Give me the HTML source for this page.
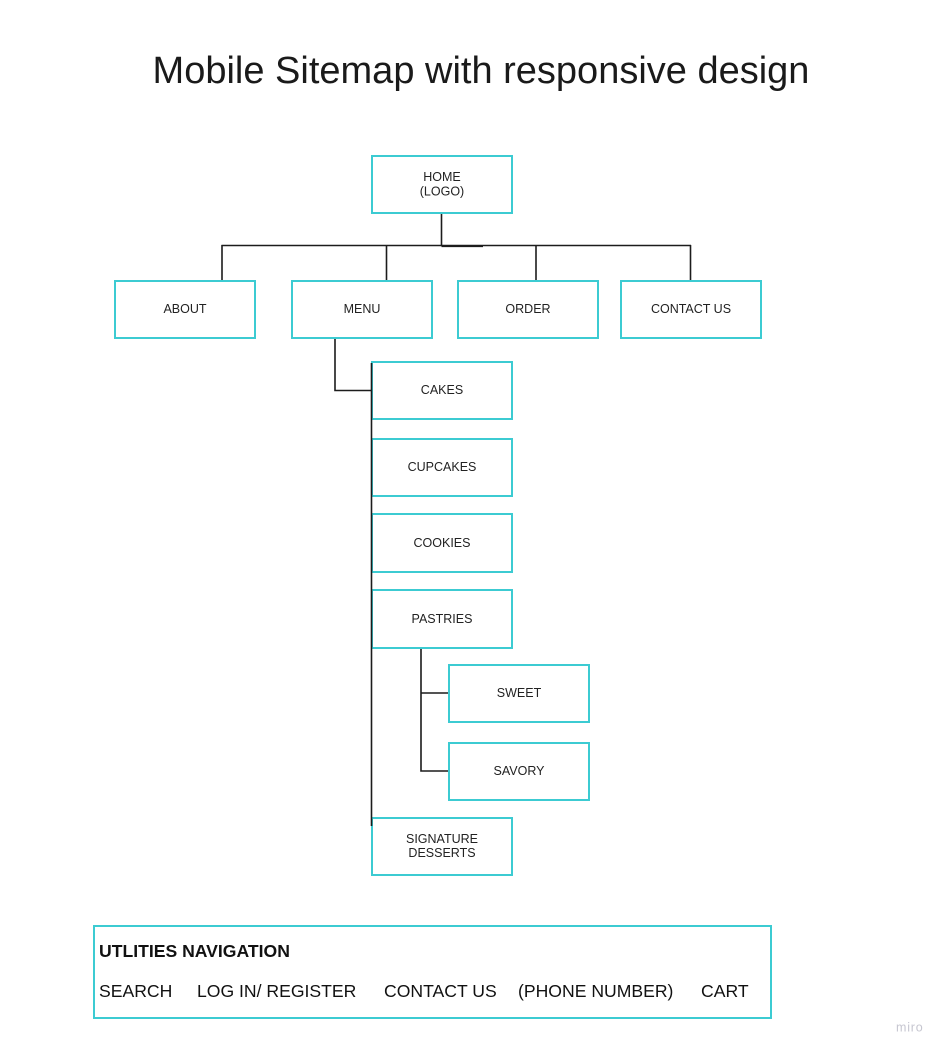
<!DOCTYPE html>
<html>
<head>
<meta charset="utf-8">
<style>
  html, body { margin: 0; padding: 0; background: #ffffff; }
  body { width: 948px; height: 1054px; overflow: hidden; }
  svg { display: block; }
  .box { fill: #ffffff; stroke: #3ccbd2; stroke-width: 2; }
  .ln { stroke: #1c1c1c; stroke-width: 1.6; fill: none; }
  .lbl { font-family: "Liberation Sans", Arial, sans-serif; font-size: 12.5px; fill: #222222; text-anchor: middle; }
  .util { font-family: "Liberation Sans", Arial, sans-serif; font-size: 17.6px; fill: #111111; }
</style>
</head>
<body>
<svg width="948" height="1054" viewBox="0 0 948 1054" xmlns="http://www.w3.org/2000/svg">
  <!-- Title -->
  <text x="481" y="83" text-anchor="middle" font-family="Liberation Sans, Arial, sans-serif" font-size="38" fill="#1a1a1a">Mobile Sitemap with responsive design</text>

  <!-- connectors -->
  <line class="ln" x1="441.5" y1="214" x2="441.5" y2="245.5"/>
  <line class="ln" x1="221.5" y1="245.5" x2="691" y2="245.5"/>
  <line class="ln" x1="441.5" y1="246.3" x2="483" y2="246.3" stroke-width="1"/>
  <line class="ln" x1="222" y1="245" x2="222" y2="280"/>
  <line class="ln" x1="386.5" y1="245" x2="386.5" y2="280"/>
  <line class="ln" x1="536" y1="245" x2="536" y2="280"/>
  <line class="ln" x1="690.5" y1="245" x2="690.5" y2="280"/>
  <polyline class="ln" points="335,339 335,390.5 371,390.5"/>
  <polyline class="ln" points="421,649 421,771 448,771"/>
  <line class="ln" x1="421" y1="693" x2="448" y2="693"/>

  <!-- boxes -->
  <rect class="box" x="372" y="156" width="140" height="57"/>
  <rect class="box" x="115" y="281" width="140" height="57"/>
  <rect class="box" x="292" y="281" width="140" height="57"/>
  <rect class="box" x="458" y="281" width="140" height="57"/>
  <rect class="box" x="621" y="281" width="140" height="57"/>
  <rect class="box" x="372" y="362" width="140" height="57"/>
  <rect class="box" x="372" y="439" width="140" height="57"/>
  <rect class="box" x="372" y="514" width="140" height="58"/>
  <rect class="box" x="372" y="590" width="140" height="58"/>
  <rect class="box" x="449" y="665" width="140" height="57"/>
  <rect class="box" x="449" y="743" width="140" height="57"/>
  <rect class="box" x="372" y="818" width="140" height="57"/>
  <rect class="box" x="94" y="926" width="677" height="92"/>

  <!-- main vertical over box borders -->
  <line class="ln" x1="371.5" y1="363" x2="371.5" y2="826"/>

  <!-- labels -->
  <text class="lbl" x="442" y="181">HOME</text>
  <text class="lbl" x="442" y="195.5">(LOGO)</text>
  <text class="lbl" x="185" y="313">ABOUT</text>
  <text class="lbl" x="362" y="313">MENU</text>
  <text class="lbl" x="528" y="313">ORDER</text>
  <text class="lbl" x="691" y="313">CONTACT US</text>
  <text class="lbl" x="442" y="394">CAKES</text>
  <text class="lbl" x="442" y="471">CUPCAKES</text>
  <text class="lbl" x="442" y="547">COOKIES</text>
  <text class="lbl" x="442" y="623">PASTRIES</text>
  <text class="lbl" x="519" y="697">SWEET</text>
  <text class="lbl" x="519" y="775">SAVORY</text>
  <text class="lbl" x="442" y="843">SIGNATURE</text>
  <text class="lbl" x="442" y="857">DESSERTS</text>

  <!-- utilities -->
  <text x="99" y="957" font-family="Liberation Sans, Arial, sans-serif" font-size="17.6" font-weight="bold" fill="#111111">UTLITIES NAVIGATION</text>
  <text class="util" x="99" y="997">SEARCH</text>
  <text class="util" x="197" y="997">LOG IN/ REGISTER</text>
  <text class="util" x="384" y="997">CONTACT US</text>
  <text class="util" x="518" y="997">(PHONE NUMBER)</text>
  <text class="util" x="701" y="997">CART</text>

  <!-- miro mark -->
  <text x="896" y="1031.5" font-family="Liberation Sans, Arial, sans-serif" font-size="12.5" letter-spacing="0.8" fill="#c6c6d0">miro</text>
</svg>
</body>
</html>
